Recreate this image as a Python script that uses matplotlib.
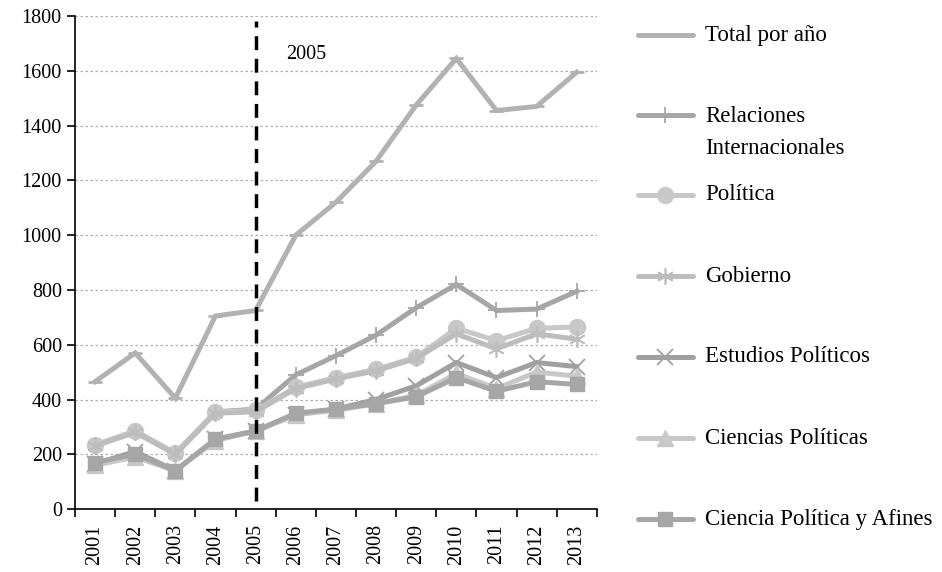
import matplotlib.pyplot as plt
from matplotlib.lines import Line2D

plt.rcParams['font.family'] = ['Liberation Serif', 'DejaVu Serif']

years = ['2001', '2002', '2003', '2004', '2005', '2006', '2007',
         '2008', '2009', '2010', '2011', '2012', '2013']

total = [465, 570, 405, 705, 725, 1000, 1120, 1270, 1475, 1645, 1455, 1470, 1595]
relaciones = [230, 285, 200, 355, 365, 490, 560, 635, 735, 820, 725, 730, 795]
politica = [235, 285, 205, 355, 360, 445, 480, 510, 555, 660, 615, 660, 665]
gobierno = [230, 280, 200, 350, 355, 440, 475, 505, 550, 640, 585, 640, 620]
estudios = [165, 210, 140, 255, 285, 345, 365, 400, 450, 535, 480, 535, 520]
ciencias = [160, 190, 140, 250, 285, 345, 360, 385, 415, 495, 440, 500, 485]
afines = [170, 200, 140, 255, 285, 350, 365, 385, 410, 480, 430, 465, 455]

labels = ['Total por año', 'Relaciones\nInternacionales', 'Política', 'Gobierno',
          'Estudios Políticos', 'Ciencias Políticas', 'Ciencia Política y Afines']

# color, marker, markersize, edge width
styles = [
    ('#b2b2b2', '_', 10, 2.0),
    ('#a6a6a6', '+', 11, 1.3),
    ('#c8c8c8', 'o', 11.5, 1.0),
    ('#bdbdbd', (6, 2, 0), 12, 1.2),
    ('#a0a0a0', 'x', 12, 1.3),
    ('#c8c8c8', '^', 11, 1.0),
    ('#a6a6a6', 's', 10, 1.0),
]
series = [total, relaciones, politica, gobierno, estudios, ciencias, afines]

fig = plt.figure(figsize=(9.42, 5.72), dpi=100)
ax = fig.add_axes([0.0796, 0.110, 0.554, 0.862])

x = list(range(len(years)))
for vals, (c, m, ms, mew) in zip(series, styles):
    ax.plot(x, vals, color=c, lw=3.6, marker=m, markersize=ms,
            markeredgewidth=mew, markeredgecolor=c, markerfacecolor=c,
            solid_joinstyle='miter')

ax.vlines(4, 30, 1780, colors='black', linestyles=(0, (4, 2.5)), lw=2.5, zorder=5)
ax.text(4.75, 1660, '2005', fontsize=14.5, va='center')

ax.set_xlim(-0.5, len(years) - 0.5)
ax.set_ylim(0, 1800)
ax.set_yticks(range(0, 1801, 200))
ax.set_xticks([i - 0.5 for i in range(len(years) + 1)])
ax.set_xticklabels([])
ax.set_xticks(x, minor=True)
ax.set_xticklabels(years, minor=True, rotation=90)
ax.tick_params(axis='x', which='major', direction='out', length=6, width=1.2)
ax.tick_params(axis='x', which='minor', length=0, pad=11, labelsize=14.5)
ax.tick_params(axis='y', direction='out', length=6, width=1.2, labelsize=14.5)
ax.grid(axis='y', color='#b0b0b0', linestyle=(0, (2, 2)), lw=0.9)
ax.set_axisbelow(True)
for s in ['top', 'right']:
    ax.spines[s].set_visible(False)
for s in ['left', 'bottom']:
    ax.spines[s].set_linewidth(1.2)

# legend drawn at the right, one row per series
lg = fig.add_axes([0, 0, 1, 1])
lg.set_xlim(0, 942)
lg.set_ylim(572, 0)
lg.axis('off')
rows = [35, 115, 195, 276, 357, 438, 519]
for yy, lab, (c, m, ms, mew) in zip(rows, labels, styles):
    lg.add_line(Line2D([638, 693], [yy, yy], color=c, lw=3.6,
                       solid_capstyle='round'))
    if m != '_':
        lg.add_line(Line2D([665], [yy], color=c, marker=m, markersize=ms,
                           markeredgewidth=mew, markeredgecolor=c,
                           markerfacecolor=c))
    if '\n' in lab:
        lg.text(705, yy - 9, lab, fontsize=16.5, va='top', linespacing=1.7)
    else:
        lg.text(705, yy, lab, fontsize=16.5, va='center')

fig.savefig('out.png', dpi=100)
